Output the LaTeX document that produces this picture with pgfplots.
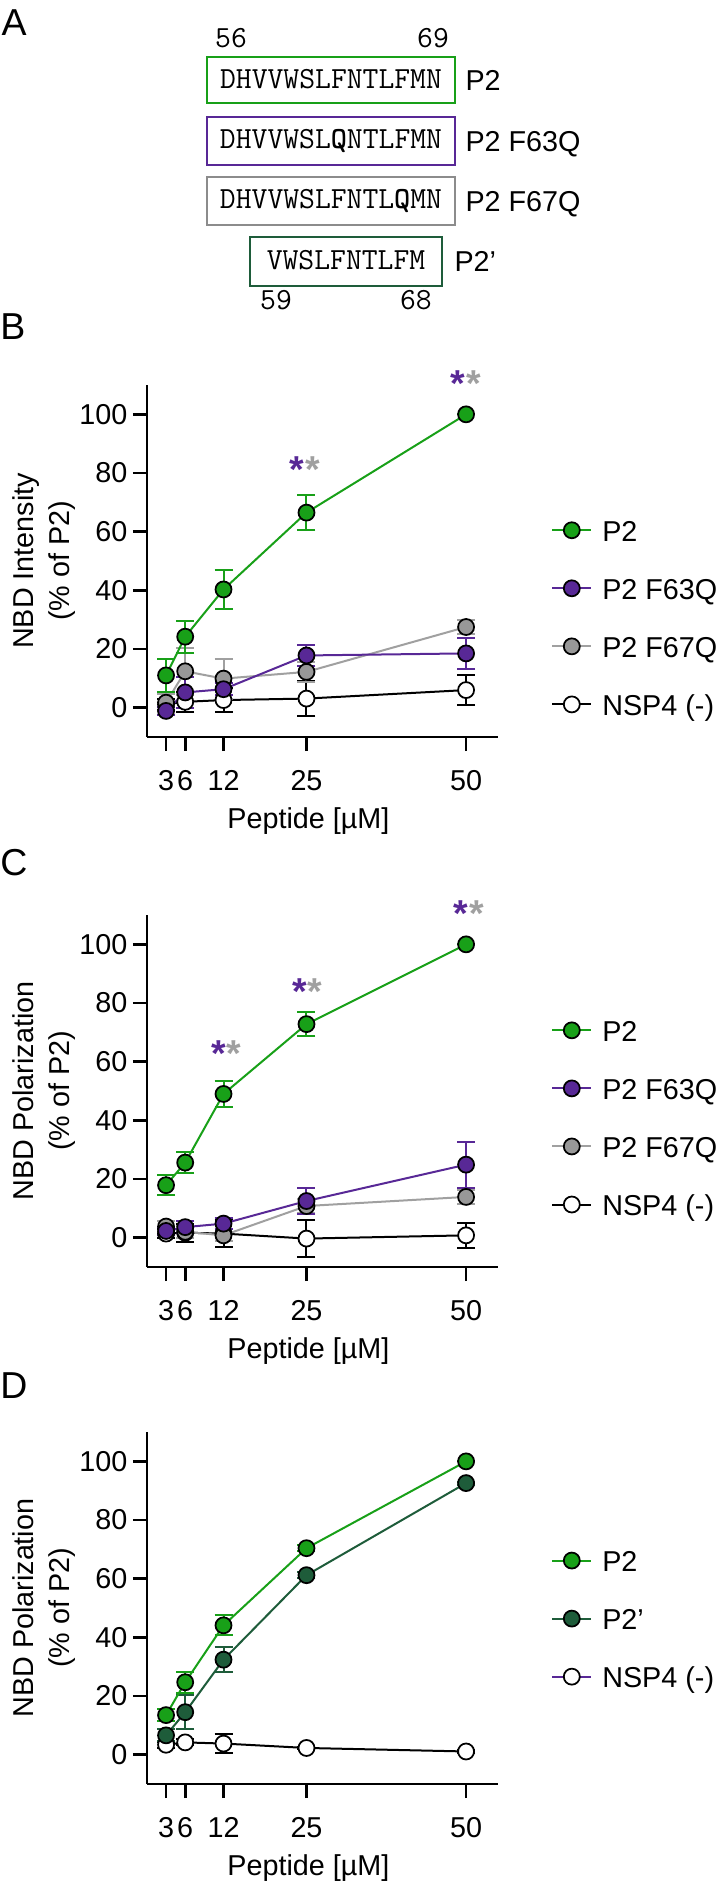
\documentclass[border=0pt]{standalone}
\usepackage{fontspec}
\setmainfont{Liberation Sans}
\usepackage{pgfplots}
\pgfplotsset{compat=1.18}
\usepackage{pgfplotstable}

\definecolor{pgreen}{RGB}{24,160,24}
\definecolor{ppurple}{RGB}{88,40,150}
\definecolor{pgrayfill}{RGB}{152,152,152}
\definecolor{pgrayline}{RGB}{160,160,160}
\definecolor{pgraybox}{RGB}{140,140,140}
\definecolor{pdark}{RGB}{30,92,58}

\newcommand\tf{\fontsize{11.5}{14.6}\selectfont}
\newcommand\sq{\fontsize{12.3}{14}\ttfamily}

% panel B: NBD intensity
\pgfplotstableread{
x y e
3 11.0 5.5
6 24.2 5.4
12 40.3 6.8
25 66.5 6.0
50 100 0
}\BPtwo
\pgfplotstableread{
x y e
3 -1.1 1.5
6 5.2 5.2
12 6.3 2.0
25 17.8 3.6
50 18.5 5.3
}\BFa
\pgfplotstableread{
x y e
3 1.7 3.0
6 12.4 8.0
12 9.9 6.8
25 12.2 3.5
50 27.5 2.5
}\BFb
\pgfplotstableread{
x y e
3 1.1 2.0
6 2.0 3.5
12 2.6 4.0
25 3.1 6.0
50 6.0 5.0
}\BNsp

% panel C: NBD polarization
\pgfplotstableread{
x y e
3 17.9 3.5
6 25.6 3.6
12 49.0 4.5
25 72.8 4.0
50 100 0
}\CPtwo
\pgfplotstableread{
x y e
3 2.3 1.5
6 3.6 2.0
12 4.8 2.0
25 12.5 4.3
50 24.9 7.8
}\CFa
\pgfplotstableread{
x y e
3 3.8 2.0
6 2.0 2.0
12 0.8 2.0
25 10.8 2.5
50 13.9 2.5
}\CFb
\pgfplotstableread{
x y e
3 1.4 1.5
6 1.7 3.0
12 1.4 4.6
25 -0.3 6.2
50 0.8 4.3
}\CNsp

% panel D: P2 vs P2'
\pgfplotstableread{
x y e
3 13.5 2.0
6 24.7 3.5
12 44.1 3.4
25 70.4 1.0
50 100 0
}\DPtwo
\pgfplotstableread{
x y e
3 6.6 2.0
6 14.5 5.8
12 32.4 4.2
25 61.2 1.0
50 92.6 0.5
}\DPtwop
\pgfplotstableread{
x y e
3 3.4 1.0
6 4.2 1.0
12 3.8 3.1
25 2.3 0.5
50 1.1 0.5
}\DNsp

\pgfplotsset{
  panel/.style={
    scale only axis, width=140.44pt, height=140.8pt,
    anchor=south west,
    xmin=0, xmax=55, ymin=-10, ymax=110,
    axis x line*=bottom, axis y line*=left,
    axis line style={line width=1.1pt},
    xtick={3,6,12,25,50}, ytick={0,20,...,100},
    tick align=outside, major tick length=5.6pt,
    tick style={line width=1.1pt, black},
    xticklabel style={font=\tf, inner sep=1pt},
    yticklabel style={font=\tf, inner sep=1pt},
    xticklabel shift=6.5pt, yticklabel shift=1pt,
    /pgf/number format/assume math mode=true,
    xlabel={Peptide [µM]},
    label style={font=\tf},
    xlabel style={at={(axis description cs:0.46,-0.238)}, anchor=center, inner sep=0pt},
    ylabel style={at={(axis description cs:-0.293,0.5)}, anchor=center, align=center},
    clip=false,
    reverse legend,
    legend style={draw=none, fill=none, anchor=west, font=\tf,
      inner sep=0pt, outer sep=0pt, row sep=11.5pt, column sep=4pt,
      nodes={inner sep=0pt}},
    legend cell align=left,
    legend image code/.code={\draw[mark repeat=2,mark phase=2,##1]
      plot coordinates {(0pt,0pt) (7.8pt,0pt) (15.6pt,0pt)};},
  },
  ser/.style 2 args={color=#1, line width=0.8pt, mark=*, mark size=3.2pt,
    mark options={fill=#2, draw=black, line width=0.7pt},
    error bars/y dir=both, error bars/y explicit,
    error bars/error bar style={line width=0.8pt, color=#1},
    error bars/error mark options={rotate=90, mark size=3.6pt, line width=0.8pt, color=#1}},
}
\tikzset{sig/.style={inner sep=0pt, anchor=north, font=\bfseries\fontsize{15}{15}\selectfont}}

\begin{document}
\begin{tikzpicture}
\begin{scope}[x=0.4pt,y=-0.4pt]
  \useasboundingbox (0,0) rectangle (718,1883);
  % panel A: peptide boxes
  \draw[line width=1.1pt, pgreen] (207,57) rectangle (455,103);
  \draw[line width=1.1pt, ppurple] (207,117) rectangle (455,165);
  \draw[line width=1.1pt, pgraybox] (207,177) rectangle (455,225);
  \draw[line width=1.1pt, pdark] (250,237) rectangle (442,286);
  \node[anchor=base, inner sep=0pt, font=\sq] at (331,88.5) {DHVVWSLFNTLFMN};
  \node[anchor=base, inner sep=0pt, font=\sq] at (331,149) {DHVVWSL\textbf{Q}NTLFMN};
  \node[anchor=base, inner sep=0pt, font=\sq] at (331,209) {DHVVWSLFNTL\textbf{Q}MN};
  \node[anchor=base, inner sep=0pt, font=\sq] at (346,269.5) {VWSLFNTLFM};
  \node[anchor=base, inner sep=0pt, font=\sq] at (231,48) {56};
  \node[anchor=base, inner sep=0pt, font=\sq] at (433,48) {69};
  \node[anchor=base, inner sep=0pt, font=\sq] at (276,310) {59};
  \node[anchor=base, inner sep=0pt, font=\sq] at (416,310) {68};
  \node[anchor=base west, inner sep=0pt, font=\tf] at (465,90.3) {P2};
  \node[anchor=base west, inner sep=0pt, font=\tf] at (465,151.3) {P2 F63Q};
  \node[anchor=base west, inner sep=0pt, font=\tf] at (465,211.3) {P2 F67Q};
  \node[anchor=base west, inner sep=0pt, font=\tf] at (454,272) {P2’};
  % panel letters
  \node[anchor=base west, inner sep=0pt, font=\fontsize{15}{15}\selectfont] at (1,36) {A};
  \node[anchor=base west, inner sep=0pt, font=\fontsize{15}{15}\selectfont] at (0,340) {B};
  \node[anchor=base west, inner sep=0pt, font=\fontsize{15}{15}\selectfont] at (0,875) {C};
  \node[anchor=base west, inner sep=0pt, font=\fontsize{15}{15}\selectfont] at (0,1398) {D};
\end{scope}

% B
\begin{axis}[panel, at={(58.76pt,-294.8pt)},
  ylabel={NBD Intensity\\(\% of P2)},
  legend style={at={(axis description cs:1.1518,0.34)}}]
  \addplot[ser={black}{white}] table[x=x,y=y,y error=e]{\BNsp};
  \addlegendentry{\strut NSP4 (-)}
  \addplot[ser={pgrayline}{pgrayfill}] table[x=x,y=y,y error=e]{\BFb};
  \addlegendentry{\strut P2 F67Q}
  \addplot[ser={ppurple}{ppurple}] table[x=x,y=y,y error=e]{\BFa};
  \addlegendentry{\strut P2 F63Q}
  \addplot[ser={pgreen}{pgreen}] table[x=x,y=y,y error=e]{\BPtwo};
  \addlegendentry{\strut P2}
  \node[sig, text=ppurple] at (axis cs:23.5,85.6) {*};
  \node[sig, text=pgrayline] at (axis cs:26.0,85.6) {*};
  \node[sig, text=ppurple] at (axis cs:48.7,115) {*};
  \node[sig, text=pgrayline] at (axis cs:51.2,115) {*};
\end{axis}

% C
\begin{axis}[panel, at={(58.76pt,-506.8pt)},
  ylabel={NBD Polarization\\(\% of P2)},
  legend style={at={(axis description cs:1.1518,0.425)}}]
  \addplot[ser={black}{white}] table[x=x,y=y,y error=e]{\CNsp};
  \addlegendentry{\strut NSP4 (-)}
  \addplot[ser={pgrayline}{pgrayfill}] table[x=x,y=y,y error=e]{\CFb};
  \addlegendentry{\strut P2 F67Q}
  \addplot[ser={ppurple}{ppurple}] table[x=x,y=y,y error=e]{\CFa};
  \addlegendentry{\strut P2 F63Q}
  \addplot[ser={pgreen}{pgreen}] table[x=x,y=y,y error=e]{\CPtwo};
  \addlegendentry{\strut P2}
  \node[sig, text=ppurple] at (axis cs:11.3,67.2) {*};
  \node[sig, text=pgrayline] at (axis cs:13.6,67.2) {*};
  \node[sig, text=ppurple] at (axis cs:24.0,88.5) {*};
  \node[sig, text=pgrayline] at (axis cs:26.3,88.5) {*};
  \node[sig, text=ppurple] at (axis cs:49.1,115) {*};
  \node[sig, text=pgrayline] at (axis cs:51.6,115) {*};
\end{axis}

% D
\begin{axis}[panel, at={(58.76pt,-713.6pt)},
  ylabel={NBD Polarization\\(\% of P2)},
  legend style={at={(axis description cs:1.1518,0.47)}}]
  \addlegendimage{color=ppurple, line width=0.8pt, mark=*, mark size=3.2pt,
    mark options={fill=white, draw=black, line width=0.7pt}}
  \addlegendentry{\strut NSP4 (-)}
  \addplot[ser={black}{white}, forget plot] table[x=x,y=y,y error=e]{\DNsp};
  \addplot[ser={pdark}{pdark}] table[x=x,y=y,y error=e]{\DPtwop};
  \addlegendentry{\strut P2’}
  \addplot[ser={pgreen}{pgreen}] table[x=x,y=y,y error=e]{\DPtwo};
  \addlegendentry{\strut P2}
\end{axis}
\end{tikzpicture}
\end{document}
